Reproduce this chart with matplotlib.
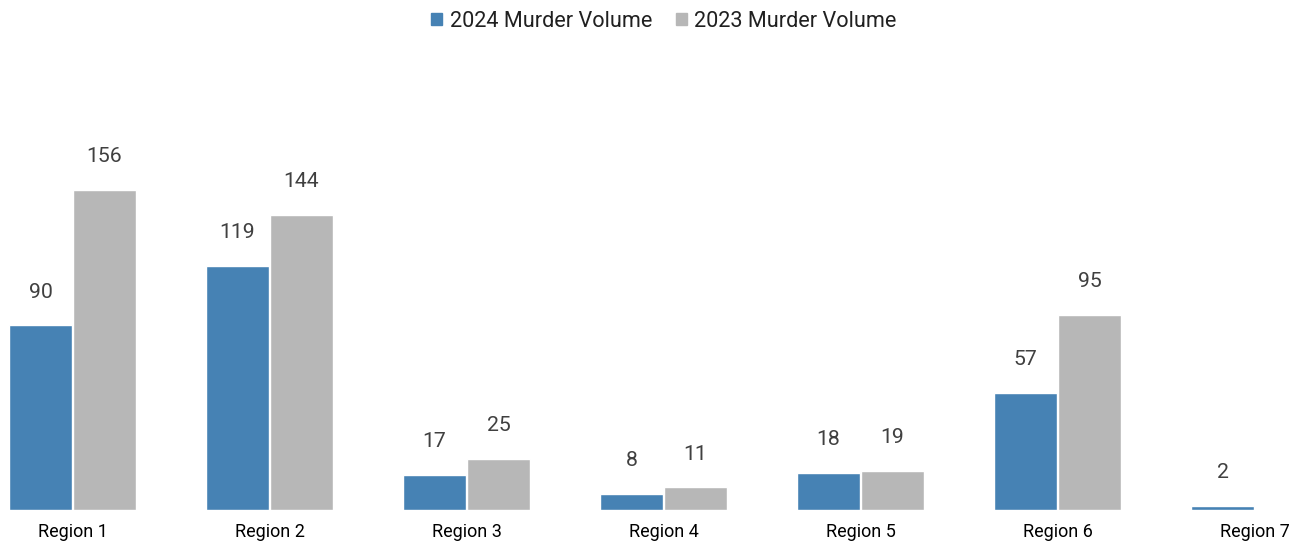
import numpy as np
import matplotlib
matplotlib.use("Agg")
import matplotlib.pyplot as plt
from matplotlib.patches import Patch

plt.rcParams['font.family'] = ['Roboto', 'DejaVu Sans']

regions = ["Region 1", "Region 2", "Region 3", "Region 4", "Region 5", "Region 6", "Region 7"]
vol_2024 = [90, 119, 17, 8, 18, 57, 2]
vol_2023 = [156, 144, 25, 11, 19, 95, np.nan]

c2024 = "#4682B4"
c2023 = "#B7B7B7"

W, H = 1302, 542
fig = plt.figure(figsize=(W / 100, H / 100), dpi=100)
ax = fig.add_axes([0, 1 - 510 / H, 1, (510 - 40) / H])

x = np.arange(len(regions))
bw = 63 / 197
off = 32 / 197
ax.bar(x - off, vol_2024, width=bw, color=c2024, edgecolor="white", linewidth=1.0)
ax.bar(x + off, vol_2023, width=bw, color=c2023, edgecolor="white", linewidth=1.0)

for xs, vals in ((x - off, vol_2024), (x + off, vol_2023)):
    for xi, v in zip(xs, vals):
        if np.isnan(v):
            continue
        ax.annotate(f"{int(v)}", (xi, v), xytext=(0, 24), textcoords="offset points",
                    ha="center", va="center", fontsize=15.3, color="#404040")

ax.set_xlim(-72.5 / 197, (W - 72.5) / 197)
ax.set_ylim(0, (510 - 40) / 2.051)
ax.set_xticks(x)
ax.set_xticklabels(regions, fontsize=13, color="black")
ax.tick_params(axis="x", length=0, pad=9.5)
ax.set_yticks([])
for s in ax.spines.values():
    s.set_visible(False)

handles = [Patch(color=c2024, label="2024 Murder Volume"), Patch(color=c2023, label="2023 Murder Volume")]
fig.legend(handles=handles, loc="center", bbox_to_anchor=(664 / W, 1 - 21.5 / H), ncol=2,
           frameon=False, fontsize=15.6, handlelength=0.5, handleheight=0.5,
           handletextpad=0.35, columnspacing=1.1, labelcolor="#202020")

fig.savefig("out.png", dpi=100)
